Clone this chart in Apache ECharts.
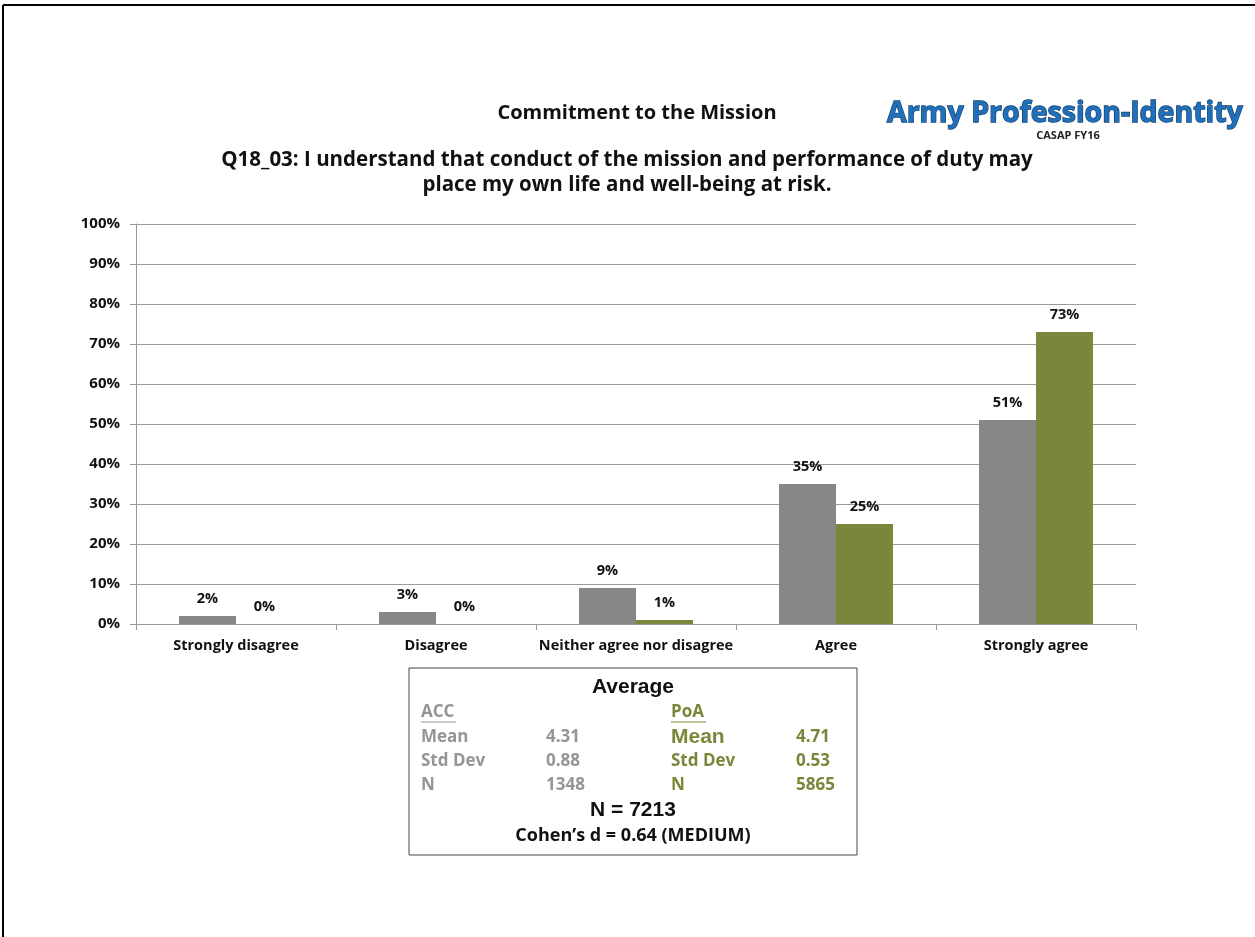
<!DOCTYPE html>
<html>
<head>
<meta charset="utf-8">
<script src="https://cdn.jsdelivr.net/npm/echarts@6/dist/echarts.min.js"></script>
<style>
  html, body { margin: 0; padding: 0; background: #fff; }
  #chart { width: 1255px; height: 937px; }
</style>
</head>
<body>
<div id="chart"></div>
<script>
// Response categories and percentages per group
const categories = ['Strongly disagree', 'Disagree', 'Neither agree nor disagree', 'Agree', 'Strongly agree'];
const accValues = [2, 3, 9, 35, 51];
const poaValues = [0, 0, 1, 25, 73];
const yTicks = [0, 10, 20, 30, 40, 50, 60, 70, 80, 90, 100];

// Summary statistics
const accStats = [['Mean', '4.31'], ['Std Dev', '0.88'], ['N', '1348']];
const poaStats = [['Mean', '4.71'], ['Std Dev', '0.53'], ['N', '5865']];
const totalN = 'N = 7213';
const effectText = 'Cohen\u2019s d = 0.64 (MEDIUM)';

const GRAY = '#878787';
const GREEN = '#7a873a';
const FONT = '"Open Sans", Lato, sans-serif';
const ARIAL = '"Liberation Sans", Arial, sans-serif';

const chart = echarts.init(document.getElementById('chart'), null, { renderer: 'canvas' });

const labelStyle = {
  show: true,
  position: 'top',
  distance: 10,
  formatter: p => p.value + '%',
  fontFamily: FONT,
  fontWeight: 'bold',
  fontSize: 14.5,
  color: '#111'
};

// Stats box texts
const statRows = [];
const rowY = [737, 761, 785];
accStats.forEach((r, i) => {
  statRows.push({ type: 'text', x: 421, y: rowY[i], style: { text: r[0], fontFamily: FONT, fontWeight: 'bold', fontSize: 17, fill: '#959595', verticalAlign: 'middle' } });
  statRows.push({ type: 'text', x: 546, y: rowY[i], style: { text: r[1], fontFamily: FONT, fontWeight: 'bold', fontSize: 17, fill: '#959595', verticalAlign: 'middle' } });
});
poaStats.forEach((r, i) => {
  const big = i === 0;
  statRows.push({ type: 'text', x: 671, y: rowY[i], style: { text: r[0], fontFamily: big ? ARIAL : FONT, fontWeight: 'bold', fontSize: big ? 21 : 17, fill: GREEN, verticalAlign: 'middle' } });
  statRows.push({ type: 'text', x: 796, y: rowY[i], style: { text: r[1], fontFamily: FONT, fontWeight: 'bold', fontSize: 17, fill: GREEN, verticalAlign: 'middle' } });
});

chart.setOption({
  backgroundColor: '#fff',
  animation: false,
  title: [
    { text: 'Commitment to the Mission', left: 632, top: 98, textAlign: 'center',
      textStyle: { fontFamily: FONT, fontWeight: 'bold', fontSize: 20, color: '#111' } },
    { text: 'Q18_03: I understand that conduct of the mission and performance of duty may\nplace my own life and well-being at risk.',
      left: 622, top: 143, textAlign: 'center',
      textStyle: { fontFamily: FONT, fontWeight: 'bold', fontSize: 20.5, lineHeight: 25, color: '#111' } }
  ],
  grid: { left: 136, right: 119, top: 224, bottom: 313 },
  xAxis: {
    type: 'category',
    data: categories,
    axisLine: { lineStyle: { color: '#999', width: 1 } },
    axisTick: { show: true, length: 6, lineStyle: { color: '#999' } },
    axisLabel: { fontFamily: FONT, fontWeight: 'bold', fontSize: 14.5, color: '#111', margin: 14, interval: 0 }
  },
  yAxis: {
    type: 'value',
    min: 0, max: 100, interval: 10,
    axisLine: { show: true, lineStyle: { color: '#999', width: 1 } },
    axisTick: { show: true, length: 6, lineStyle: { color: '#999' } },
    axisLabel: { fontFamily: FONT, fontWeight: 'bold', fontSize: 15, color: '#111', margin: 16,
      formatter: v => (yTicks.includes(v) ? v + '%' : '') },
    splitLine: { show: true, lineStyle: { color: '#9a9a9a', width: 1 } }
  },
  series: [
    { name: 'ACC', type: 'bar', data: accValues, barWidth: 57, barGap: '0%',
      itemStyle: { color: GRAY }, label: labelStyle },
    { name: 'PoA', type: 'bar', data: poaValues, barWidth: 57, barGap: '0%',
      itemStyle: { color: GREEN }, label: labelStyle }
  ],
  graphic: [
    // outer frame
    { type: 'line', shape: { x1: 3, y1: 5, x2: 1255, y2: 5 }, style: { stroke: '#000', lineWidth: 2 } },
    { type: 'line', shape: { x1: 3, y1: 5, x2: 3, y2: 937 }, style: { stroke: '#000', lineWidth: 2 } },
    // logo
    { type: 'text', x: 887, y: 114, style: { text: 'Army Profession-Identity', fontFamily: FONT, fontWeight: 700, fontSize: 28.5,
        fill: '#1f6fba', stroke: '#15406e', lineWidth: 1.3, verticalAlign: 'middle' } },
    { type: 'text', x: 1068, y: 136, style: { text: 'CASAP FY16', fontFamily: FONT, fontWeight: 'bold', fontSize: 11, fill: '#222', align: 'center', verticalAlign: 'middle' } },
    // stats box
    { type: 'rect', shape: { x: 409, y: 668, width: 448, height: 187 }, style: { fill: '#fff', stroke: '#444', lineWidth: 1 } },
    { type: 'text', x: 633, y: 687, style: { text: 'Average', fontFamily: ARIAL, fontWeight: 'bold', fontSize: 21, fill: '#111', align: 'center', verticalAlign: 'middle' } },
    { type: 'text', x: 421, y: 712, style: { text: 'ACC', fontFamily: FONT, fontWeight: 'bold', fontSize: 17, fill: '#959595', verticalAlign: 'middle' } },
    { type: 'line', shape: { x1: 421, y1: 722, x2: 456, y2: 722 }, style: { stroke: '#959595', lineWidth: 1.2 } },
    { type: 'text', x: 671, y: 712, style: { text: 'PoA', fontFamily: FONT, fontWeight: 'bold', fontSize: 17, fill: GREEN, verticalAlign: 'middle' } },
    { type: 'line', shape: { x1: 671, y1: 722, x2: 706, y2: 722 }, style: { stroke: GREEN, lineWidth: 1.2 } },
    ...statRows,
    { type: 'text', x: 633, y: 810, style: { text: totalN, fontFamily: ARIAL, fontWeight: 'bold', fontSize: 21, fill: '#111', align: 'center', verticalAlign: 'middle' } },
    { type: 'text', x: 633, y: 836, style: { text: effectText, fontFamily: FONT, fontWeight: 'bold', fontSize: 18, fill: '#111', align: 'center', verticalAlign: 'middle' } }
  ]
});
</script>
</body>
</html>
